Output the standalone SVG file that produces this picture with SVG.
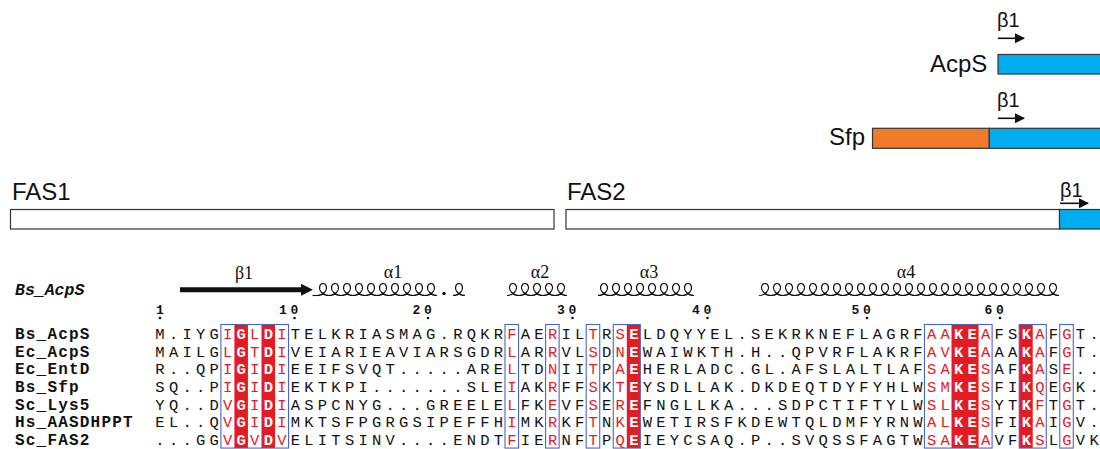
<svg xmlns="http://www.w3.org/2000/svg" xmlns:xlink="http://www.w3.org/1999/xlink" width="1100" height="449" viewBox="0 0 1100 449">
<style>
.seq{font-family:"Liberation Mono",monospace;font-size:15.5px;letter-spacing:4.23px;fill:#111}
.r{fill:#E41B23}
.w{fill:#fff;font-weight:bold}
.e{letter-spacing:0}
.nm{font-family:"Liberation Mono",monospace;font-weight:bold;font-size:16px;letter-spacing:1.2px;fill:#111}
.num{font-family:"Liberation Mono",monospace;font-weight:bold;font-size:13px;text-anchor:middle;fill:#111}
.ss{font-family:"Liberation Serif","Times New Roman",serif;font-size:18px;text-anchor:middle;fill:#111}
.lab{font-family:"Liberation Sans",Arial,sans-serif;font-size:24px;fill:#111}
.b1{font-family:"Liberation Sans",Arial,sans-serif;font-size:20px;fill:#111}
.bar{stroke:#333;stroke-width:1.2}
.blue{fill:#00AEEF}
.orange{fill:#F07A2A}
.white{fill:#fff}
.box{fill:none;stroke:#4A66C4;stroke-width:1.1}
.redbg{fill:#E41B23}
.helix{fill:none;stroke:#111;stroke-width:1.15}
.arr{stroke:#111;stroke-width:1.6;fill:none}
</style>
<defs>
<marker id="ah" viewBox="0 0 10 10" refX="9" refY="5" markerWidth="10" markerHeight="10" markerUnits="userSpaceOnUse" orient="auto"><path d="M0,0L10,5L0,10z" fill="#111"/></marker>
<path id="l1" d="M0,0c2.83,0 5.62,-1.19 7.37,-3c1.75,-1.81 2.42,-4.19 2,-6c-.42,-1.81 -1.87,-3 -3.37,-3c-1.5,0 -2.95,1.19 -3.37,3c-.42,1.81 .25,4.19 2,6c1.75,1.81 4.54,3 7.37,3"/>
<path id="l5" d="M0,0c2.83,0 5.62,-1.19 7.37,-3c1.75,-1.81 2.42,-4.19 2,-6c-.42,-1.81 -1.87,-3 -3.37,-3c-1.5,0 -2.95,1.19 -3.37,3c-.42,1.81 .25,4.19 2,6c1.75,1.81 4.54,3 7.37,3c2.83,0 5.62,-1.19 7.37,-3c1.75,-1.81 2.42,-4.19 2,-6c-.42,-1.81 -1.87,-3 -3.37,-3c-1.5,0 -2.95,1.19 -3.37,3c-.42,1.81 .25,4.19 2,6c1.75,1.81 4.54,3 7.37,3c2.83,0 5.62,-1.19 7.37,-3c1.75,-1.81 2.42,-4.19 2,-6c-.42,-1.81 -1.87,-3 -3.37,-3c-1.5,0 -2.95,1.19 -3.37,3c-.42,1.81 .25,4.19 2,6c1.75,1.81 4.54,3 7.37,3c2.83,0 5.62,-1.19 7.37,-3c1.75,-1.81 2.42,-4.19 2,-6c-.42,-1.81 -1.87,-3 -3.37,-3c-1.5,0 -2.95,1.19 -3.37,3c-.42,1.81 .25,4.19 2,6c1.75,1.81 4.54,3 7.37,3c2.83,0 5.62,-1.19 7.37,-3c1.75,-1.81 2.42,-4.19 2,-6c-.42,-1.81 -1.87,-3 -3.37,-3c-1.5,0 -2.95,1.19 -3.37,3c-.42,1.81 .25,4.19 2,6c1.75,1.81 4.54,3 7.37,3"/>
</defs>
<rect width="1100" height="449" fill="#fff"/>

<g id="acps">
<text class="lab" x="930" y="72">AcpS</text>
<rect class="bar blue" x="998" y="54.5" width="104" height="19.5"/>
<text class="b1" x="997" y="27">β1</text>
</g>
<g id="sfp">
<text class="lab" x="829" y="145">Sfp</text>
<rect class="bar orange" x="872.5" y="128.3" width="116.8" height="20"/>
<rect class="bar blue" x="989.3" y="128.3" width="112" height="20"/>
<text class="b1" x="997" y="107">β1</text>
</g>
<g id="fas1">
<text class="lab" x="12" y="200">FAS1</text>
<rect class="bar white" x="10.5" y="209.5" width="543.5" height="19.5"/>
</g>
<g id="fas2">
<text class="lab" x="567" y="200">FAS2</text>
<rect class="bar white" x="566" y="209.5" width="493.5" height="19.5"/>
<rect class="bar blue" x="1059.5" y="209.5" width="42" height="19.5"/>
<text class="b1" x="1060" y="197">β1</text>
</g>
<g id="connectors">
<path class="arr" d="M998,38.3H1024" marker-end="url(#ah)"/>
<path class="arr" d="M998,118.3H1024" marker-end="url(#ah)"/>
<path class="arr" d="M1060,203.3H1088" marker-end="url(#ah)"/>
</g>

<g id="secondary-structure">
<text x="15" y="295" style="font-family:'Liberation Mono',monospace;font-weight:bold;font-style:italic;font-size:16.5px;fill:#111">Bs_AcpS</text>
<text class="ss" x="244" y="279">β1</text>
<path d="M180,287.3H302V292.3H180z" fill="#111"/>
<path d="M301,283.8L313,289.8L301,295.8z" fill="#111"/>
<text class="ss" x="393" y="278">α1</text>
<text class="ss" x="540" y="278">α2</text>
<text class="ss" x="649" y="278">α3</text>
<text class="ss" x="906" y="278">α4</text>
<g class="helix">
<path d="M312.5,295.5H317"/>
<use xlink:href="#l5" x="317" y="295.5"/>
<use xlink:href="#l5" x="377" y="295.5"/>
<use xlink:href="#l1" x="453" y="295.5"/>
<use xlink:href="#l5" x="507" y="295.5"/>
<use xlink:href="#l5" x="598" y="295.5"/>
<use xlink:href="#l1" x="658" y="295.5"/>
<use xlink:href="#l1" x="670" y="295.5"/>
<use xlink:href="#l1" x="682" y="295.5"/>
<use xlink:href="#l5" x="759" y="295.5"/>
<use xlink:href="#l5" x="819" y="295.5"/>
<use xlink:href="#l5" x="879" y="295.5"/>
<use xlink:href="#l5" x="939" y="295.5"/>
<use xlink:href="#l5" x="999" y="295.5"/>
</g>
<circle cx="444" cy="293.5" r="1.7" fill="#111"/>
</g>

<g id="numbering">
<text class="num" x="160" y="313.5">1</text>
<text class="num" x="283 294.5" y="313.5">10</text>
<text class="num" x="416.5 428" y="313.5">20</text>
<text class="num" x="561 572.5" y="313.5">30</text>
<text class="num" x="696 707.5" y="313.5">40</text>
<text class="num" x="855.5 867" y="313.5">50</text>
<text class="num" x="988.5 1000" y="313.5">60</text>
<g fill="#111">
<circle cx="160" cy="318" r="1.3"/><circle cx="294.5" cy="318" r="1.3"/><circle cx="428" cy="318" r="1.3"/><circle cx="572.5" cy="318" r="1.3"/><circle cx="707.5" cy="318" r="1.3"/><circle cx="867" cy="318" r="1.3"/><circle cx="1000" cy="318" r="1.3"/>
</g>
</g>

<g id="conservation-background">
<rect class="redbg" x="234.4" y="324.5" width="13.53" height="123.55"/>
<rect class="redbg" x="261.5" y="324.5" width="13.53" height="123.55"/>
<rect class="redbg" x="626.8" y="324.5" width="13.53" height="123.55"/>
<rect class="redbg" x="951.5" y="324.5" width="27.06" height="123.55"/>
<rect class="redbg" x="1019.2" y="324.5" width="13.53" height="123.55"/>
</g>

<g id="row-Bs_AcpS">
<text class="nm" x="15" y="339">Bs_AcpS</text>
<text class="seq" x="155.35" y="339">M.IYG<tspan class="r">I</tspan><tspan class="w">G</tspan><tspan class="r">L</tspan><tspan class="w">D</tspan><tspan class="r">I</tspan>TELKRIASMAG.RQKR<tspan class="r">F</tspan>AE<tspan class="r">R</tspan>IL<tspan class="r">T</tspan>R<tspan class="r">S</tspan><tspan class="w">E</tspan>LDQYYEL.SEKRKNEFLAGRF<tspan class="r">AA</tspan><tspan class="w">KE</tspan><tspan class="r">A</tspan>FS<tspan class="w">K</tspan><tspan class="r">A</tspan>F<tspan class="r">G</tspan>T<tspan class="e">.</tspan></text>
</g>
<g id="row-Ec_AcpS">
<text class="nm" x="15" y="356.65">Ec_AcpS</text>
<text class="seq" x="155.35" y="356.65">MAILG<tspan class="r">L</tspan><tspan class="w">G</tspan><tspan class="r">T</tspan><tspan class="w">D</tspan><tspan class="r">I</tspan>VEIARIEAVIARSGDR<tspan class="r">L</tspan>AR<tspan class="r">R</tspan>VL<tspan class="r">S</tspan>D<tspan class="r">N</tspan><tspan class="w">E</tspan>WAIWKTH.H..QPVRFLAKRF<tspan class="r">AV</tspan><tspan class="w">KE</tspan><tspan class="r">A</tspan>AA<tspan class="w">K</tspan><tspan class="r">A</tspan>F<tspan class="r">G</tspan>T<tspan class="e">.</tspan></text>
</g>
<g id="row-Ec_EntD">
<text class="nm" x="15" y="374.3">Ec_EntD</text>
<text class="seq" x="155.35" y="374.3">R..QP<tspan class="r">I</tspan><tspan class="w">G</tspan><tspan class="r">I</tspan><tspan class="w">D</tspan><tspan class="r">I</tspan>EEIFSVQT.....ARE<tspan class="r">L</tspan>TD<tspan class="r">N</tspan>II<tspan class="r">T</tspan>P<tspan class="r">A</tspan><tspan class="w">E</tspan>HERLADC.GL.AFSLALTLAF<tspan class="r">SA</tspan><tspan class="w">KE</tspan><tspan class="r">S</tspan>AF<tspan class="w">K</tspan><tspan class="r">A</tspan>S<tspan class="r">E</tspan>.<tspan class="e">.</tspan></text>
</g>
<g id="row-Bs_Sfp">
<text class="nm" x="15" y="391.95">Bs_Sfp</text>
<text class="seq" x="155.35" y="391.95">SQ..P<tspan class="r">I</tspan><tspan class="w">G</tspan><tspan class="r">I</tspan><tspan class="w">D</tspan><tspan class="r">I</tspan>EKTKPI.......SLE<tspan class="r">I</tspan>AK<tspan class="r">R</tspan>FF<tspan class="r">S</tspan>K<tspan class="r">T</tspan><tspan class="w">E</tspan>YSDLLAK.DKDEQTDYFYHLW<tspan class="r">SM</tspan><tspan class="w">KE</tspan><tspan class="r">S</tspan>FI<tspan class="w">K</tspan><tspan class="r">Q</tspan>E<tspan class="r">G</tspan>K<tspan class="e">.</tspan></text>
</g>
<g id="row-Sc_Lys5">
<text class="nm" x="15" y="409.6">Sc_Lys5</text>
<text class="seq" x="155.35" y="409.6">YQ..D<tspan class="r">V</tspan><tspan class="w">G</tspan><tspan class="r">I</tspan><tspan class="w">D</tspan><tspan class="r">I</tspan>ASPCNYG...GREELE<tspan class="r">L</tspan>FK<tspan class="r">E</tspan>VF<tspan class="r">S</tspan>E<tspan class="r">R</tspan><tspan class="w">E</tspan>FNGLLKA...SDPCTIFTYLW<tspan class="r">SL</tspan><tspan class="w">KE</tspan><tspan class="r">S</tspan>YT<tspan class="w">K</tspan><tspan class="r">F</tspan>T<tspan class="r">G</tspan>T<tspan class="e">.</tspan></text>
</g>
<g id="row-Hs_AASDHPPT">
<text class="nm" x="15" y="427.25">Hs_AASDHPPT</text>
<text class="seq" x="155.35" y="427.25">EL..Q<tspan class="r">V</tspan><tspan class="w">G</tspan><tspan class="r">I</tspan><tspan class="w">D</tspan><tspan class="r">I</tspan>MKTSFPGRGSIPEFFH<tspan class="r">I</tspan>MK<tspan class="r">R</tspan>KF<tspan class="r">T</tspan>N<tspan class="r">K</tspan><tspan class="w">E</tspan>WETIRSFKDEWTQLDMFYRNW<tspan class="r">AL</tspan><tspan class="w">KE</tspan><tspan class="r">S</tspan>FI<tspan class="w">K</tspan><tspan class="r">A</tspan>I<tspan class="r">G</tspan>V<tspan class="e">.</tspan></text>
</g>
<g id="row-Sc_FAS2">
<text class="nm" x="15" y="444.9">Sc_FAS2</text>
<text class="seq" x="155.35" y="444.9">...GG<tspan class="r">V</tspan><tspan class="w">G</tspan><tspan class="r">V</tspan><tspan class="w">D</tspan><tspan class="r">V</tspan>ELITSINV....ENDT<tspan class="r">F</tspan>IE<tspan class="r">R</tspan>NF<tspan class="r">T</tspan>P<tspan class="r">Q</tspan><tspan class="w">E</tspan>IEYCSAQ.P..SVQSSFAGTW<tspan class="r">SA</tspan><tspan class="w">KE</tspan><tspan class="r">A</tspan>VF<tspan class="w">K</tspan><tspan class="r">S</tspan>L<tspan class="r">G</tspan>V<tspan class="e">K</tspan></text>
</g>

<g id="conservation-boxes">
<rect class="box" x="220.9" y="324.5" width="67.65" height="123.55"/>
<rect class="box" x="505" y="324.5" width="13.53" height="123.55"/>
<rect class="box" x="545.6" y="324.5" width="13.53" height="123.55"/>
<rect class="box" x="586.2" y="324.5" width="13.53" height="123.55"/>
<rect class="box" x="613.25" y="324.5" width="27.06" height="123.55"/>
<rect class="box" x="924.45" y="324.5" width="67.65" height="123.55"/>
<rect class="box" x="1019.2" y="324.5" width="27.06" height="123.55"/>
<rect class="box" x="1059.75" y="324.5" width="13.53" height="123.55"/>
</g>
</svg>
